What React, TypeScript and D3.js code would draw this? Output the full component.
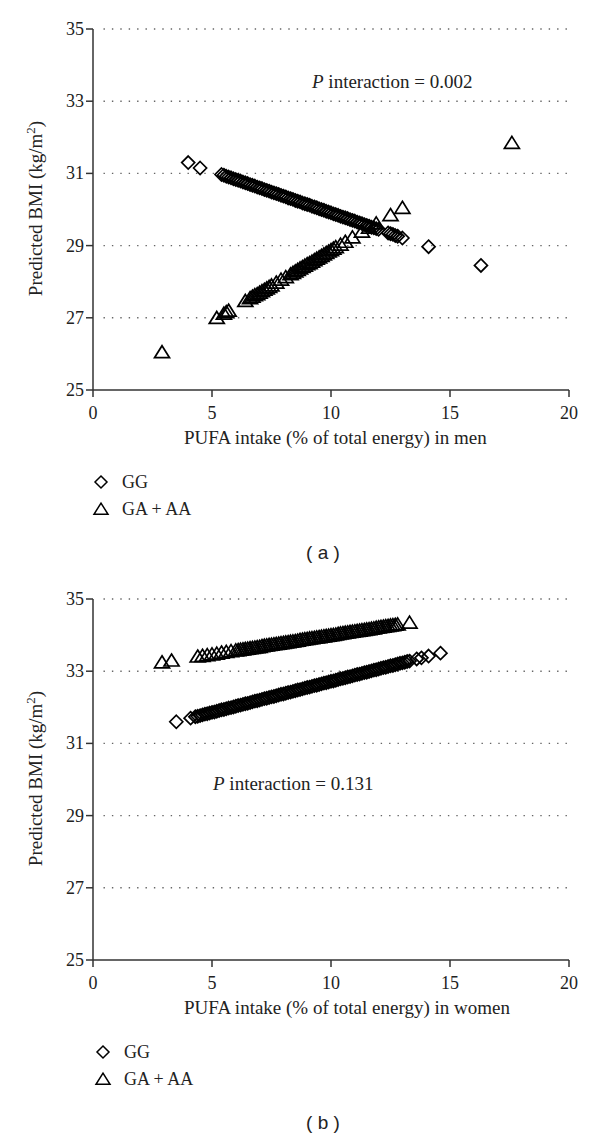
import React from "react";
import * as d3 from "d3";

// ---- Data ----
const xTicks = [0, 5, 10, 15, 20];
const yTicks = [25, 27, 29, 31, 33, 35];

// Panel (a) men — GG (diamonds)
const menGGx = [4.0, 4.5, 5.4, 5.5, 5.6, 5.7, 5.8, 5.9, 6.0, 6.1, 6.2, 6.3, 6.4, 6.5, 6.6, 6.7, 6.8, 6.9, 7.0, 7.1, 7.2, 7.3, 7.4, 7.5, 7.6, 7.7, 7.8, 7.9, 8.0, 8.1, 8.2, 8.3, 8.4, 8.5, 8.6, 8.7, 8.8, 8.9, 9.0, 9.1, 9.2, 9.3, 9.4, 9.5, 9.6, 9.7, 9.8, 9.9, 10.0, 10.1, 10.2, 10.3, 10.4, 10.5, 10.6, 10.7, 10.8, 10.9, 11.0, 11.1, 11.2, 11.3, 11.4, 11.5, 11.6, 11.7, 11.8, 11.9, 12.0, 12.4, 12.5, 12.6, 12.7, 12.8, 13.0, 14.1, 16.3];
const menGGy = [31.3, 31.15, 30.97, 30.95, 30.92, 30.9, 30.88, 30.85, 30.83, 30.81, 30.79, 30.76, 30.74, 30.72, 30.69, 30.67, 30.65, 30.62, 30.6, 30.58, 30.55, 30.53, 30.51, 30.48, 30.46, 30.44, 30.42, 30.39, 30.37, 30.35, 30.32, 30.3, 30.28, 30.25, 30.23, 30.21, 30.18, 30.16, 30.14, 30.12, 30.09, 30.07, 30.05, 30.02, 30.0, 29.98, 29.95, 29.93, 29.91, 29.88, 29.86, 29.84, 29.81, 29.79, 29.77, 29.75, 29.72, 29.7, 29.68, 29.65, 29.63, 29.61, 29.58, 29.56, 29.54, 29.51, 29.49, 29.47, 29.45, 29.35, 29.33, 29.31, 29.28, 29.26, 29.21, 28.97, 28.45];
// Panel (a) men — GA + AA (triangles)
const menGAx = [2.9, 5.2, 5.5, 5.6, 5.7, 6.4, 6.6, 6.7, 6.8, 6.9, 7.0, 7.1, 7.2, 7.3, 7.4, 7.5, 7.7, 7.9, 8.1, 8.3, 8.4, 8.5, 8.6, 8.7, 8.8, 8.9, 9.0, 9.1, 9.2, 9.3, 9.4, 9.5, 9.6, 9.7, 9.8, 9.9, 10.0, 10.1, 10.2, 10.4, 10.6, 10.9, 11.3, 11.6, 11.9, 12.5, 13.0, 17.6];
const menGAy = [26.05, 27.0, 27.12, 27.16, 27.2, 27.47, 27.55, 27.59, 27.63, 27.66, 27.7, 27.74, 27.78, 27.82, 27.86, 27.9, 27.98, 28.06, 28.13, 28.21, 28.25, 28.29, 28.33, 28.37, 28.41, 28.45, 28.49, 28.52, 28.56, 28.6, 28.64, 28.68, 28.72, 28.76, 28.8, 28.84, 28.88, 28.92, 28.96, 29.03, 29.11, 29.23, 29.39, 29.5, 29.62, 29.85, 30.05, 31.85];

// Panel (b) women — GG (diamonds)
const womenGGx = [3.5, 4.1, 4.3, 4.4, 4.5, 4.6, 4.7, 4.8, 4.9, 5.0, 5.1, 5.2, 5.3, 5.4, 5.5, 5.6, 5.7, 5.8, 5.9, 6.0, 6.1, 6.2, 6.3, 6.4, 6.5, 6.6, 6.7, 6.8, 6.9, 7.0, 7.1, 7.2, 7.3, 7.4, 7.5, 7.6, 7.7, 7.8, 7.9, 8.0, 8.1, 8.2, 8.3, 8.4, 8.5, 8.6, 8.7, 8.8, 8.9, 9.0, 9.1, 9.2, 9.3, 9.4, 9.5, 9.6, 9.7, 9.8, 9.9, 10.0, 10.1, 10.2, 10.3, 10.4, 10.5, 10.6, 10.7, 10.8, 10.9, 11.0, 11.1, 11.2, 11.3, 11.4, 11.5, 11.6, 11.7, 11.8, 11.9, 12.0, 12.1, 12.2, 12.3, 12.4, 12.5, 12.6, 12.7, 12.8, 12.9, 13.0, 13.1, 13.2, 13.3, 13.6, 13.8, 14.1, 14.6];
const womenGGy = [31.6, 31.7, 31.74, 31.75, 31.77, 31.79, 31.81, 31.82, 31.84, 31.86, 31.87, 31.89, 31.91, 31.93, 31.94, 31.96, 31.98, 31.99, 32.01, 32.03, 32.05, 32.06, 32.08, 32.1, 32.11, 32.13, 32.15, 32.17, 32.18, 32.2, 32.22, 32.24, 32.25, 32.27, 32.29, 32.3, 32.32, 32.34, 32.36, 32.37, 32.39, 32.41, 32.42, 32.44, 32.46, 32.48, 32.49, 32.51, 32.53, 32.55, 32.56, 32.58, 32.6, 32.61, 32.63, 32.65, 32.67, 32.68, 32.7, 32.72, 32.73, 32.75, 32.77, 32.79, 32.8, 32.82, 32.84, 32.85, 32.87, 32.89, 32.91, 32.92, 32.94, 32.96, 32.97, 32.99, 33.01, 33.03, 33.04, 33.06, 33.08, 33.1, 33.11, 33.13, 33.15, 33.16, 33.18, 33.2, 33.22, 33.23, 33.25, 33.27, 33.28, 33.34, 33.37, 33.42, 33.5];
// Panel (b) women — GA + AA (triangles)
const womenGAx = [2.9, 3.3, 4.4, 4.6, 4.8, 5.0, 5.2, 5.4, 5.6, 5.8, 6.0, 6.1, 6.2, 6.3, 6.4, 6.5, 6.6, 6.7, 6.8, 6.9, 7.0, 7.1, 7.2, 7.3, 7.4, 7.5, 7.6, 7.7, 7.8, 7.9, 8.0, 8.1, 8.2, 8.3, 8.4, 8.5, 8.6, 8.7, 8.8, 8.9, 9.0, 9.1, 9.2, 9.3, 9.4, 9.5, 9.6, 9.7, 9.8, 9.9, 10.0, 10.1, 10.2, 10.3, 10.4, 10.5, 10.6, 10.7, 10.8, 10.9, 11.0, 11.1, 11.2, 11.3, 11.4, 11.5, 11.6, 11.7, 11.8, 11.9, 12.0, 12.1, 12.2, 12.3, 12.4, 12.5, 12.6, 12.7, 12.8, 13.3];
const womenGAy = [33.25, 33.3, 33.41, 33.43, 33.45, 33.47, 33.49, 33.52, 33.54, 33.56, 33.58, 33.59, 33.6, 33.61, 33.62, 33.63, 33.64, 33.65, 33.66, 33.67, 33.68, 33.7, 33.71, 33.72, 33.73, 33.74, 33.75, 33.76, 33.77, 33.78, 33.79, 33.8, 33.81, 33.82, 33.83, 33.84, 33.85, 33.87, 33.88, 33.89, 33.9, 33.91, 33.92, 33.93, 33.94, 33.95, 33.96, 33.97, 33.98, 33.99, 34.0, 34.01, 34.02, 34.04, 34.05, 34.06, 34.07, 34.08, 34.09, 34.1, 34.11, 34.12, 34.13, 34.14, 34.15, 34.16, 34.17, 34.18, 34.19, 34.21, 34.22, 34.23, 34.24, 34.25, 34.26, 34.27, 34.28, 34.29, 34.3, 34.35];

const legendLabels = ["GG", "GA + AA"];

// ---- Styling ----
const SERIF = "Liberation Serif, Times New Roman, DejaVu Serif, serif";
const SANS = "Liberation Sans, Arial, sans-serif";
const AXIS_COLOR = "#333";
const TEXT_COLOR = "#222";
const MARK_STROKE = 1.7;

const diamondPath = (s: number) => `M0,${-s}L${s},0L0,${s}L${-s},0Z`;
const trianglePath = (s: number) => `M0,${-s * 0.85}L${s},${s * 0.75}L${-s},${s * 0.75}Z`;

type PanelProps = {
  top: number;
  ggx: number[];
  ggy: number[];
  gax: number[];
  gay: number[];
  xLabel: string;
  pText: string;
  pX: number;
  pY: number;
  tag: string;
  legendX: number;
};

function Panel({ top, ggx, ggy, gax, gay, xLabel, pText, pX, pY, tag, legendX }: PanelProps) {
  const x = d3.scaleLinear().domain([0, 20]).range([93, 569]);
  const y = d3.scaleLinear().domain([25, 35]).range([top + 361, top]);
  const bottom = y(25);
  return (
    <g>
      {/* dotted gridlines */}
      {yTicks.filter((t) => t > 25).map((t) => (
        <line
          key={"g" + t}
          x1={x(0) + 10.5}
          x2={x(20) - 2}
          y1={y(t)}
          y2={y(t)}
          stroke="#666"
          strokeWidth={1.4}
          strokeDasharray="1.4,7"
        />
      ))}
      {/* axes */}
      <line x1={x(0)} x2={x(0)} y1={y(35)} y2={bottom} stroke={AXIS_COLOR} strokeWidth={1.5} />
      <line x1={x(0)} x2={x(20)} y1={bottom} y2={bottom} stroke={AXIS_COLOR} strokeWidth={1.5} />
      {yTicks.map((t) => (
        <g key={"y" + t}>
          <line x1={x(0) - 7} x2={x(0)} y1={y(t)} y2={y(t)} stroke={AXIS_COLOR} strokeWidth={1.5} />
          <text x={x(0) - 9} y={y(t) + 6} textAnchor="end" fontFamily={SERIF} fontSize={18} fill={TEXT_COLOR}>
            {t}
          </text>
        </g>
      ))}
      {xTicks.map((t) => (
        <g key={"x" + t}>
          <line x1={x(t)} x2={x(t)} y1={bottom} y2={bottom + 7} stroke={AXIS_COLOR} strokeWidth={1.5} />
          <text x={x(t)} y={bottom + 29} textAnchor="middle" fontFamily={SERIF} fontSize={18} fill={TEXT_COLOR}>
            {t}
          </text>
        </g>
      ))}
      {/* axis titles */}
      <text x={184} y={bottom + 54} textAnchor="start" fontFamily={SERIF} fontSize={19} fill={TEXT_COLOR}>
        {xLabel}
      </text>
      <text
        transform={`translate(42,${y(30) - 1}) rotate(-90)`}
        textAnchor="middle"
        fontFamily={SERIF}
        fontSize={19}
        fill={TEXT_COLOR}
      >
        Predicted BMI (kg/m
        <tspan dy={-7} fontSize={13}>2</tspan>
        <tspan dy={7}>)</tspan>
      </text>
      {/* annotation */}
      <text x={pX} y={pY} fontFamily={SERIF} fontSize={19} fill={TEXT_COLOR}>
        <tspan fontStyle="italic">P</tspan> interaction = {pText}
      </text>
      {/* markers */}
      {ggx.map((v, i) => (
        <path
          key={"d" + i}
          d={diamondPath(6.5)}
          transform={`translate(${x(v)},${y(ggy[i])})`}
          fill="none"
          stroke="#000"
          strokeWidth={MARK_STROKE}
        />
      ))}
      {gax.map((v, i) => (
        <path
          key={"t" + i}
          d={trianglePath(7.5)}
          transform={`translate(${x(v)},${y(gay[i])})`}
          fill="none"
          stroke="#000"
          strokeWidth={MARK_STROKE}
        />
      ))}
      {/* legend */}
      <path d={diamondPath(6)} transform={`translate(${legendX},${bottom + 92})`} fill="none" stroke="#000" strokeWidth={1.5} />
      <text x={legendX + 21} y={bottom + 98} fontFamily={SERIF} fontSize={18} fill={TEXT_COLOR}>
        {legendLabels[0]}
      </text>
      <path d={trianglePath(7)} transform={`translate(${legendX},${bottom + 119})`} fill="none" stroke="#000" strokeWidth={1.5} />
      <text x={legendX + 21} y={bottom + 125} fontFamily={SERIF} fontSize={18} fill={TEXT_COLOR}>
        {legendLabels[1]}
      </text>
      {/* panel tag */}
      <text x={323} y={bottom + 169} textAnchor="middle" fontFamily={SANS} fontSize={19} fill={TEXT_COLOR}>
        {tag}
      </text>
    </g>
  );
}

export default function App() {
  return (
    <svg
      width={600}
      height={1140}
      style={{ position: "absolute", left: 0, top: 0, background: "#fff" }}
    >
      <rect width={600} height={1140} fill="#fff" />
      <Panel
        top={29}
        ggx={menGGx}
        ggy={menGGy}
        gax={menGAx}
        gay={menGAy}
        xLabel="PUFA intake (% of total energy) in men"
        pText="0.002"
        pX={312}
        pY={88}
        tag="( a )"
        legendX={101}
      />
      <Panel
        top={599}
        ggx={womenGGx}
        ggy={womenGGy}
        gax={womenGAx}
        gay={womenGAy}
        xLabel="PUFA intake (% of total energy) in women"
        pText="0.131"
        pX={213}
        pY={790}
        tag="( b )"
        legendX={103}
      />
    </svg>
  );
}
